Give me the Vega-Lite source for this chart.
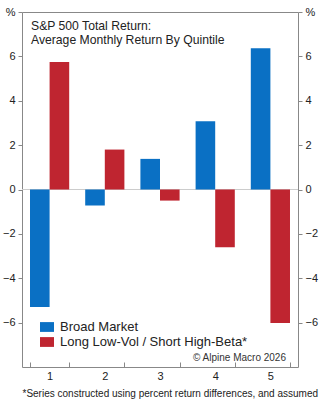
{
  "$schema": "https://vega.github.io/schema/vega-lite/v6.json",
  "autosize": {"type": "none"},
  "width": 276,
  "height": 355,
  "padding": {"left": 22, "top": 12, "right": 26, "bottom": 33},
  "background": "white",
  "config": {
    "font": "Liberation Sans",
    "view": {"stroke": "#888888", "strokeWidth": 1},
    "axis": {"domain": false, "grid": false, "labelFont": "Liberation Sans", "labelColor": "#222222", "tickColor": "#888888"}
  },
  "title": {
    "text": ["S&P 500 Total Return:", "Average Monthly Return By Quintile"],
    "anchor": "start",
    "frame": "group",
    "orient": "top",
    "offset": 0,
    "dx": 9,
    "dy": 40,
    "font": "Liberation Sans",
    "fontSize": 12.2,
    "fontWeight": "normal",
    "color": "#222222",
    "lineHeight": 13.5
  },
  "datasets": {
    "bars": [
      {"quintile": "1", "series": "Broad Market", "value": -5.3},
      {"quintile": "1", "series": "Long Low-Vol / Short High-Beta*", "value": 5.75},
      {"quintile": "2", "series": "Broad Market", "value": -0.72},
      {"quintile": "2", "series": "Long Low-Vol / Short High-Beta*", "value": 1.8},
      {"quintile": "3", "series": "Broad Market", "value": 1.38},
      {"quintile": "3", "series": "Long Low-Vol / Short High-Beta*", "value": -0.5},
      {"quintile": "4", "series": "Broad Market", "value": 3.08},
      {"quintile": "4", "series": "Long Low-Vol / Short High-Beta*", "value": -2.6},
      {"quintile": "5", "series": "Broad Market", "value": 6.37},
      {"quintile": "5", "series": "Long Low-Vol / Short High-Beta*", "value": -6.02}
    ],
    "note": [{"quintile": "5", "y": -7.58, "label": "© Alpine Macro 2026"}],
    "zero": [{"y": 0}]
  },
  "layer": [
    {
      "data": {"name": "zero"},
      "mark": {"type": "rule", "color": "#cccccc", "strokeWidth": 1},
      "encoding": {
        "y": {"field": "y", "type": "quantitative", "scale": {"domain": [-8, 8], "nice": false, "zero": false}, "axis": null}
      }
    },
    {
      "data": {"name": "bars"},
      "mark": {"type": "bar"},
      "encoding": {
        "x": {
          "field": "quintile", "type": "nominal",
          "scale": {"paddingInner": 0.29, "paddingOuter": 0.145},
          "axis": {
            "title": "*Series constructed using percent return differences, and assumed",
            "titleFont": "Liberation Sans", "titleFontSize": 10, "titleFontWeight": "normal", "titleColor": "#222222",
            "titleAnchor": "start", "titleAlign": "left", "titleX": 0, "titleY": 26, "titleBaseline": "middle",
            "labelAngle": 0, "labelFontSize": 11, "labelPadding": 8,
            "ticks": true, "tickBand": "extent", "tickSize": -5, "tickOffset": 0
          }
        },
        "xOffset": {"field": "series", "type": "nominal", "sort": ["Broad Market", "Long Low-Vol / Short High-Beta*"], "scale": {"paddingInner": 0}},
        "y": {
          "field": "value", "type": "quantitative",
          "scale": {"domain": [-8, 8], "nice": false, "zero": false},
          "axis": {
            "title": null, "orient": "left", "values": [-6, -4, -2, 0, 2, 4, 6, 8],
            "labelExpr": "datum.value == 8 ? '%' : format(datum.value, 'd')",
            "labelFontSize": 11, "tickSize": 4, "labelPadding": 3
          }
        },
        "color": {
          "field": "series", "type": "nominal",
          "sort": ["Broad Market", "Long Low-Vol / Short High-Beta*"],
          "scale": {"domain": ["Broad Market", "Long Low-Vol / Short High-Beta*"], "range": ["#0A70C4", "#BF2530"]},
          "legend": {
            "title": null, "orient": "none", "legendX": 18, "legendY": 308,
            "symbolType": "M-1,-0.7L1,-0.7L1,0.7L-1,0.7Z", "symbolSize": 196, "symbolStrokeWidth": 0,
            "labelFont": "Liberation Sans", "labelFontSize": 13, "labelColor": "#222222", "labelLimit": 400,
            "rowPadding": 1, "labelOffset": 6, "padding": 0
          }
        }
      }
    },
    {
      "data": {"name": "note"},
      "mark": {"type": "text", "align": "right", "baseline": "middle", "fontSize": 10, "color": "#333333", "dx": -4},
      "encoding": {
        "x": {"field": "quintile", "type": "nominal", "bandPosition": 1},
        "y": {
          "field": "y", "type": "quantitative",
          "scale": {"domain": [-8, 8], "nice": false, "zero": false},
          "axis": {
            "title": null, "orient": "right", "values": [-6, -4, -2, 0, 2, 4, 6, 8],
            "labelExpr": "datum.value == 8 ? '%' : format(datum.value, 'd')",
            "labelFontSize": 11, "tickSize": 4, "labelPadding": 3
          }
        },
        "text": {"field": "label"}
      }
    }
  ],
  "resolve": {"scale": {"y": "independent"}, "axis": {"y": "independent"}}
}
